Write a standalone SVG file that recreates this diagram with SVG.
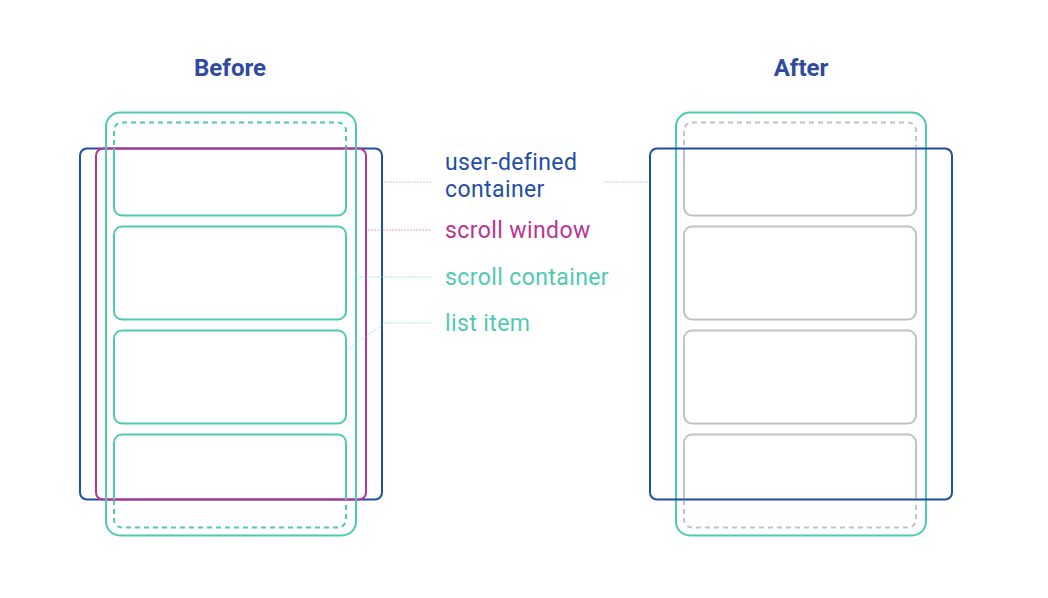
<svg xmlns="http://www.w3.org/2000/svg" width="1048" height="598" viewBox="0 0 1048 598">
  <defs>
    <style>
      .title { font-family: Roboto, "Liberation Sans", sans-serif; font-weight: 700; font-size: 24px; fill: #2f4a9f; text-anchor: middle; }
      .lbl { font-family: Roboto, "Liberation Sans", sans-serif; font-size: 23px; letter-spacing: 0.4px; }
      .blue { fill: none; stroke: #1f4ea6; stroke-width: 2; }
      .mag { fill: none; stroke: #b93591; stroke-width: 2; }
      .teal { fill: none; stroke: #4fc9b3; stroke-width: 2; }
      .tealdash { fill: none; stroke: #4fc9b3; stroke-width: 2; stroke-dasharray: 5 4; }
      .grey { fill: none; stroke: #c1c1c7; stroke-width: 2; }
      .greydash { fill: none; stroke: #c1c1c7; stroke-width: 2; stroke-dasharray: 5 4; }
      .lead { fill: none; stroke-width: 1; stroke-dasharray: 2 1; opacity: 0.6; }
    </style>
    <clipPath id="win"><rect x="0" y="148" width="1048" height="352"/></clipPath>
    <clipPath id="outwin"><rect x="0" y="0" width="1048" height="147"/><rect x="0" y="501" width="1048" height="97"/></clipPath>
  </defs>
  <rect width="1048" height="598" fill="#ffffff"/>

  <text class="title" x="230" y="76">Before</text>
  <text class="title" x="801" y="76">After</text>

  <g id="before-user-defined-container">
    <rect class="blue" x="80" y="148.5" width="302" height="351" rx="7"/>
  </g>
  <g id="before-scroll-window">
    <rect class="mag" x="96" y="148.5" width="270" height="351" rx="7"/>
  </g>
  <g id="before-scroll-container">
    <rect class="teal" x="106" y="112.5" width="250" height="423" rx="14"/>
  </g>
  <g id="before-list-items">
    <rect class="tealdash" x="114" y="122.5" width="232" height="405" rx="8" clip-path="url(#outwin)"/>
    <g clip-path="url(#win)">
      <rect class="teal" x="114" y="122.5" width="232" height="93" rx="8"/>
      <rect class="teal" x="114" y="434.5" width="232" height="93" rx="8"/>
    </g>
    <rect class="teal" x="114" y="226.5" width="232" height="93" rx="8"/>
    <rect class="teal" x="114" y="330.5" width="232" height="93" rx="8"/>
  </g>

  <g id="after-scroll-container">
    <rect class="teal" x="676" y="112.5" width="250" height="423" rx="14"/>
  </g>
  <g id="after-list-items">
    <rect class="greydash" x="684" y="122.5" width="232" height="405" rx="8" clip-path="url(#outwin)"/>
    <g clip-path="url(#win)">
      <rect class="grey" x="684" y="122.5" width="232" height="93" rx="8"/>
      <rect class="grey" x="684" y="434.5" width="232" height="93" rx="8"/>
    </g>
    <rect class="grey" x="684" y="226.5" width="232" height="93" rx="8"/>
    <rect class="grey" x="684" y="330.5" width="232" height="93" rx="8"/>
  </g>
  <g id="after-user-defined-container">
    <rect class="blue" x="650" y="148.5" width="302" height="351" rx="7"/>
  </g>

  <g id="connectors">
    <line class="lead" stroke="#7fb6e0" x1="384" y1="182" x2="431" y2="182"/>
    <line class="lead" stroke="#b8a0e0" x1="604" y1="182" x2="648" y2="182"/>
    <line class="lead" stroke="#d070c0" x1="368" y1="230" x2="431" y2="230"/>
    <line class="lead" stroke="#70d8d0" x1="357" y1="277" x2="431" y2="277"/>
    <polyline class="lead" stroke="#70d8d0" points="431,323 385,323 346,350"/>
  </g>

  <g id="labels">
    <text class="lbl" x="445" y="170" fill="#1f4ea6">user-defined</text>
    <text class="lbl" x="445" y="197" fill="#1f4ea6">container</text>
    <text class="lbl" x="445" y="238" fill="#b93591">scroll window</text>
    <text class="lbl" x="445" y="285" fill="#4fc9b3">scroll container</text>
    <text class="lbl" x="445" y="331" fill="#4fc9b3">list item</text>
  </g>
</svg>
